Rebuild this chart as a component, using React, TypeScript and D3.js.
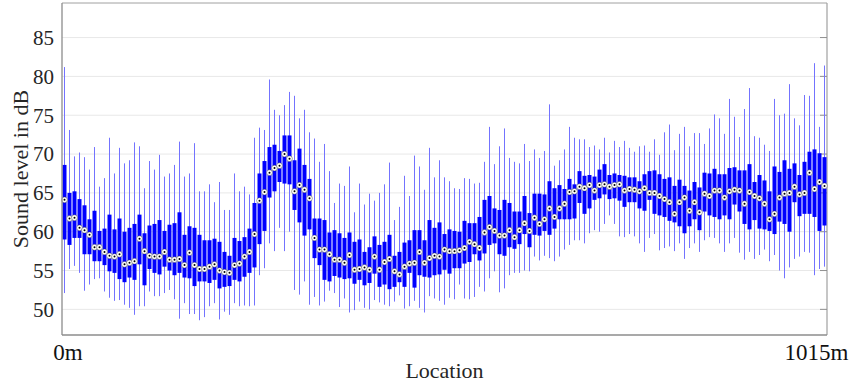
import React from "react";
import * as d3 from "d3";

const whiskerHigh = [
  81.2, 73.1, 69.7, 70.2, 69.6, 68.0, 70.9, 65.8, 66.9, 72.1,
  67.5, 70.8, 68.8, 69.2, 71.5, 71.0, 65.6, 69.1, 68.0, 69.9,
  67.1, 67.5, 68.6, 71.6, 67.1, 67.5, 71.4, 65.2, 65.2, 66.1,
  63.8, 66.4, 62.8, 62.8, 67.5, 65.2, 65.8, 64.8, 72.1, 73.4,
  73.1, 79.6, 75.7, 75.0, 76.3, 78.0, 77.5, 74.6, 75.7, 72.8,
  72.0, 69.0, 71.3, 67.8, 63.7, 66.2, 65.9, 68.4, 62.5, 66.2,
  63.5, 64.9, 64.0, 65.0, 66.1, 68.9, 61.5, 63.2, 67.2, 64.6,
  69.8, 68.4, 65.4, 70.8, 67.0, 69.2, 67.0, 66.5, 65.6, 65.5,
  66.9, 66.8, 66.2, 66.3, 69.0, 73.5, 68.7, 71.0, 73.3, 69.5,
  69.0, 68.8, 71.3, 69.1, 70.6, 69.5, 70.4, 76.4, 68.5, 69.2,
  70.6, 73.5, 72.1, 71.9, 71.9, 70.9, 71.1, 70.6, 72.1, 70.2,
  71.7, 70.9, 71.7, 70.8, 70.3, 71.0, 71.1, 70.3, 71.9, 69.9,
  72.8, 73.8, 70.5, 72.6, 73.5, 71.0, 72.7, 72.7, 71.3, 73.3,
  75.1, 74.6, 72.6, 77.1, 74.8, 72.2, 75.8, 78.5, 72.3, 72.1,
  71.2, 70.4, 77.1, 75.0, 75.2, 79.0, 74.6, 73.7, 77.6, 77.5,
  81.7, 73.5, 81.4,
];

const boxHigh = [
  68.6, 65.0, 65.2, 64.2, 63.4, 61.6, 62.7, 60.1, 60.4, 62.2,
  60.3, 61.7, 60.0, 60.5, 61.0, 62.2, 59.8, 60.8, 61.0, 61.5,
  60.1, 60.9, 61.1, 62.5, 59.6, 60.7, 60.5, 59.6, 58.9, 58.9,
  59.1, 58.7, 57.4, 56.9, 59.2, 58.8, 59.3, 60.4, 63.7, 67.5,
  69.1, 70.9, 71.2, 70.4, 72.4, 72.4, 69.2, 70.7, 68.6, 66.8,
  61.7, 61.7, 61.5, 59.9, 60.2, 59.8, 59.2, 59.9, 58.7, 59.0,
  57.4, 58.0, 59.4, 58.3, 58.7, 59.6, 56.9, 57.4, 58.6, 58.9,
  60.2, 60.2, 58.9, 61.5, 60.5, 61.2, 59.7, 60.3, 60.1, 60.0,
  61.4, 61.1, 61.1, 61.9, 64.1, 64.6, 63.0, 62.8, 64.1, 63.7,
  62.6, 62.6, 64.6, 62.4, 64.9, 64.9, 64.8, 66.5, 65.6, 66.0,
  65.5, 66.8, 66.1, 67.8, 67.2, 67.3, 67.1, 68.0, 68.7, 67.3,
  67.5, 67.3, 67.2, 67.0, 67.0, 66.5, 67.4, 67.8, 67.9, 67.4,
  66.8, 67.0, 65.9, 66.7, 65.9, 65.3, 66.4, 65.7, 67.6, 67.5,
  68.1, 67.4, 67.4, 68.2, 68.3, 67.9, 67.9, 68.7, 66.4, 67.3,
  66.6, 65.2, 68.4, 67.7, 69.2, 68.1, 68.8, 67.3, 69.0, 70.3,
  70.6, 70.1, 69.6,
];

const medians = [
  64.1, 61.7, 61.8, 60.5, 60.2, 59.6, 58.0, 58.0, 57.4, 56.9,
  56.8, 57.1, 55.8, 56.0, 56.2, 59.1, 57.5, 56.9, 56.8, 56.8,
  57.4, 56.4, 56.4, 56.5, 55.7, 57.3, 55.7, 55.2, 55.2, 55.5,
  55.8, 55.0, 54.8, 54.7, 55.7, 55.9, 56.8, 57.4, 59.7, 64.0,
  65.1, 67.6, 68.2, 68.5, 70.0, 69.4, 65.2, 66.0, 65.4, 64.3,
  59.2, 57.7, 57.7, 57.1, 56.4, 56.4, 56.0, 57.0, 55.1, 55.2,
  55.4, 55.1, 56.8, 55.1, 56.1, 56.5, 54.9, 54.5, 55.5, 55.9,
  56.0, 57.4, 56.0, 56.6, 56.9, 56.8, 57.7, 57.5, 57.5, 57.6,
  57.9, 58.7, 58.4, 57.9, 59.9, 60.6, 60.1, 59.5, 59.5, 60.2,
  59.3, 60.2, 61.1, 60.1, 61.8, 61.0, 61.6, 63.0, 61.9, 63.0,
  63.6, 65.1, 65.2, 65.8, 65.6, 66.0, 65.3, 66.0, 66.1, 65.8,
  66.0, 66.1, 65.3, 65.5, 65.4, 65.2, 65.6, 65.0, 65.0, 64.6,
  64.2, 63.8, 62.3, 63.8, 64.4, 62.7, 63.8, 62.5, 64.9, 64.6,
  65.3, 65.3, 64.4, 65.2, 65.4, 65.3, 63.6, 65.1, 64.6, 64.3,
  63.6, 61.6, 62.3, 64.4, 64.9, 65.0, 65.8, 64.8, 65.0, 67.6,
  65.5, 66.4, 65.9,
];

const boxLow = [
  59.0, 58.3, 59.2, 59.2, 57.1, 57.1, 56.2, 56.2, 55.7, 54.9,
  54.7, 53.9, 53.5, 54.1, 53.8, 55.8, 53.1, 55.2, 54.7, 54.5,
  55.5, 55.0, 54.4, 54.7, 54.1, 54.0, 53.0, 53.6, 53.6, 53.4,
  53.8, 52.7, 52.9, 53.0, 53.8, 53.6, 54.2, 54.7, 55.4, 58.4,
  60.1, 64.4, 65.2, 66.4, 66.2, 66.1, 62.8, 61.2, 59.5, 60.3,
  56.6, 55.7, 53.8, 53.6, 54.3, 54.1, 53.9, 54.0, 53.3, 53.8,
  53.1, 53.4, 54.6, 52.9, 53.2, 52.6, 52.9, 53.5, 52.9, 54.7,
  52.8, 54.4, 54.2, 54.1, 54.4, 54.5, 55.1, 54.6, 55.3, 55.3,
  55.9, 56.1, 57.1, 56.3, 57.2, 58.3, 58.5, 57.1, 56.9, 58.0,
  57.8, 58.4, 59.7, 58.0, 59.6, 59.5, 60.1, 59.6, 60.4, 61.6,
  61.6, 61.6, 61.7, 63.7, 62.3, 63.0, 64.1, 64.3, 64.8, 64.2,
  64.3, 64.0, 63.2, 63.8, 63.8, 63.0, 62.7, 64.1, 62.3, 62.1,
  61.9, 61.4, 61.2, 60.7, 59.8, 60.7, 61.6, 60.2, 62.6, 62.1,
  61.9, 61.6, 62.1, 61.6, 63.5, 62.6, 61.0, 60.3, 61.5, 60.4,
  60.3, 60.1, 59.7, 61.3, 61.0, 60.0, 63.8, 62.0, 62.3, 62.3,
  61.9, 60.1, 60.8,
];

const whiskerLow = [
  52.1, 55.2, 55.6, 54.7, 52.4, 53.2, 53.9, 54.0, 52.3, 51.5,
  51.1, 51.2, 50.6, 50.2, 49.3, 50.4, 50.4, 52.3, 51.7, 51.7,
  52.1, 52.5, 51.3, 48.8, 50.8, 49.4, 49.4, 48.6, 49.0, 50.4,
  50.8, 48.7, 49.7, 49.3, 50.8, 50.4, 50.5, 50.4, 50.5, 54.4,
  55.3, 58.5, 57.5, 60.5, 57.5, 60.0, 52.5, 51.9, 53.6, 50.6,
  51.6, 50.5, 51.0, 52.4, 52.1, 50.3, 51.4, 49.6, 49.9, 51.0,
  50.2, 50.0, 51.2, 50.9, 50.6, 50.4, 51.0, 51.8, 50.1, 50.4,
  51.1, 50.2, 49.6, 51.7, 51.4, 51.1, 50.6, 51.5, 51.3, 53.2,
  51.4, 51.3, 51.6, 52.9, 52.3, 54.0, 54.9, 52.2, 52.7, 54.4,
  54.7, 54.7, 55.0, 54.9, 56.8, 56.3, 56.9, 56.6, 56.2, 56.8,
  57.7, 58.3, 58.9, 58.9, 58.5, 59.8, 60.2, 60.0, 61.0, 62.1,
  61.0, 59.4, 59.3, 59.7, 59.4, 58.5, 57.4, 59.2, 59.7, 57.6,
  57.9, 58.1, 57.5, 58.5, 56.5, 57.9, 58.5, 57.4, 58.9, 59.3,
  59.2, 58.5, 57.4, 58.5, 59.2, 57.3, 56.4, 57.4, 56.5, 57.0,
  57.7, 56.2, 57.0, 55.0, 54.0, 55.4, 56.5, 56.8, 57.4, 57.3,
  54.4, 55.2, 55.5,
];

const yTicks = [50, 55, 60, 65, 70, 75, 80, 85];
const xTickMeters = [0, 1015];
const xTickLabels = ["0m", "1015m"];

const width = 854;
const height = 388;
const margin = { top: 3, right: 27, bottom: 53, left: 62 };
const font = "'Liberation Serif', 'Times New Roman', serif";

export default function App() {
  const idx = d3.range(medians.length);

  const x = d3
    .scaleBand<number>()
    .domain(idx)
    .range([margin.left, width - margin.right])
    .paddingInner(0.2)
    .paddingOuter(0.1);

  const y = d3
    .scaleLinear()
    .domain([46.7, 89.45])
    .range([height - margin.bottom, margin.top]);

  // position along the route, for the two end labels
  const meters = d3.scaleLinear().domain([0, 1015]).range([68, 816.5]);

  const left = margin.left;
  const right = width - margin.right;
  const top = margin.top;
  const bottom = height - margin.bottom;
  const cx = (i: number) => (x(i) as number) + x.bandwidth() / 2;

  return (
    <svg
      width={width}
      height={height}
      style={{ position: "absolute", left: 0, top: 0, background: "#fff" }}
    >
      {/* grid */}
      {yTicks.map((t) => (
        <line key={"g" + t} x1={left} x2={right} y1={y(t)} y2={y(t)} stroke="#e8e8e8" strokeWidth={1} />
      ))}

      {/* frame */}
      <line x1={left} x2={right} y1={top} y2={top} stroke="#a0a0a0" strokeWidth={1} />
      <line x1={right} x2={right} y1={top} y2={bottom} stroke="#a0a0a0" strokeWidth={1.2} />
      {yTicks.map((t) => (
        <line key={"rt" + t} x1={right - 7} x2={right} y1={y(t)} y2={y(t)} stroke="#909090" strokeWidth={1} />
      ))}

      {/* whiskers */}
      {idx.map((i) => (
        <line
          key={"w" + i}
          x1={cx(i)}
          x2={cx(i)}
          y1={y(whiskerLow[i])}
          y2={y(whiskerHigh[i])}
          stroke="#7373ff"
          strokeWidth={1}
        />
      ))}

      {/* boxes */}
      {idx.map((i) => (
        <rect
          key={"b" + i}
          x={x(i)}
          width={x.bandwidth()}
          y={y(boxHigh[i])}
          height={y(boxLow[i]) - y(boxHigh[i])}
          fill="#0000ff"
        />
      ))}

      {/* medians */}
      {idx.map((i) => (
        <g key={"m" + i}>
          <circle cx={cx(i)} cy={y(medians[i])} r={2.9} fill="#ffffff" stroke="#303030" strokeWidth={0.4} />
          <circle cx={cx(i)} cy={y(medians[i])} r={1} fill="#000000" />
        </g>
      ))}

      {/* axes lines */}
      <line x1={left} x2={left} y1={top} y2={bottom} stroke="#8c8c8c" strokeWidth={1.3} />
      <line x1={left} x2={right} y1={bottom} y2={bottom} stroke="#8c8c8c" strokeWidth={1.3} />

      {/* y tick labels */}
      {yTicks.map((t) => (
        <text
          key={"yl" + t}
          x={left - 8}
          y={y(t)}
          dy="0.35em"
          textAnchor="end"
          fontFamily={font}
          fontSize={21}
          fill="#262626"
        >
          {t}
        </text>
      ))}

      {/* x tick labels */}
      {xTickMeters.map((m, i) => (
        <text
          key={"xl" + m}
          x={meters(m)}
          y={bottom + 25}
          textAnchor="middle"
          fontFamily={font}
          fontSize={23}
          fill="#111"
        >
          {xTickLabels[i]}
        </text>
      ))}

      {/* axis titles */}
      <text
        x={(left + right) / 2}
        y={378}
        textAnchor="middle"
        fontFamily={font}
        fontSize={22}
        fill="#262626"
      >
        Location
      </text>
      <text
        transform={`translate(28,${(top + bottom) / 2}) rotate(-90)`}
        textAnchor="middle"
        fontFamily={font}
        fontSize={22}
        fill="#262626"
      >
        Sound level in dB
      </text>
    </svg>
  );
}
